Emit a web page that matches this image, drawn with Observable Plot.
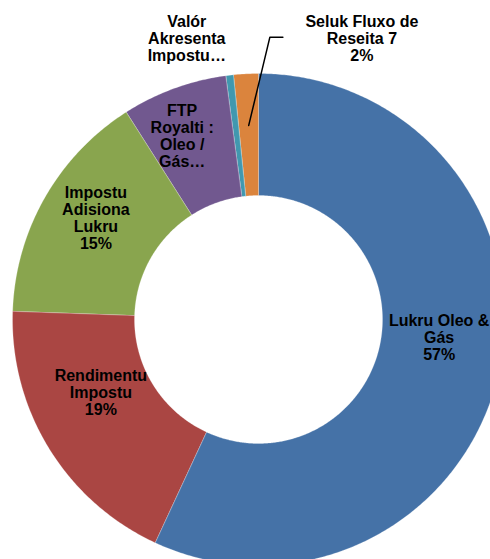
<!DOCTYPE html>
<html><head><meta charset="utf-8">
<script src="https://cdn.jsdelivr.net/npm/d3@7"></script>
<script src="https://cdn.jsdelivr.net/npm/@observablehq/plot@0.6"></script>
<style>html,body{margin:0;padding:0;background:#fff;} #chart{width:490px;height:559px;overflow:hidden;}</style>
</head><body><div id="chart"></div>
<script>
// ---- data ----
const categories = ["Lukru Oleo & Gás", "Rendimentu Impostu", "Impostu Adisiona Lukru", "FTP Royalti : Oleo / Gás…", "Valór Akresenta Impostu…", "Seluk Fluxo de Reseita 7"];
const values = [56.8, 18.6, 15.4, 6.9, 0.5, 1.6];
const labelLines = ["Lukru Oleo &\nGás", "Rendimentu\nImpostu", "Impostu\nAdisiona\nLukru", "FTP\nRoyalti :\nOleo /\nGás…", "Valór\nAkresenta\nImpostu…", "Seluk Fluxo de\nReseita 7"];
const showPercent = [true, true, true, false, false, true];
const colors = ["#4572A7", "#AA4643", "#89A54E", "#71588F", "#4198AF", "#DB843D"];

// ---- layout ----
const W = 490, H = 559, cx = 258, cy = 319, R = 246, Rin = 124;
const rin = Rin / R;
const total = d3.sum(values);
const arcs = d3.pie().sort(null).value(d => d)(values);
const polar = (t, r) => ({x: r * Math.sin(t), y: r * Math.cos(t)});

const pts = [];
arcs.forEach((a, i) => {
  const n = Math.max(2, Math.ceil((a.endAngle - a.startAngle) / (Math.PI / 360)));
  for (let k = 0; k <= n; k++) {
    const t = a.startAngle + (a.endAngle - a.startAngle) * k / n;
    pts.push({key: categories[i], ...polar(t, 1)});
  }
  for (let k = n; k >= 0; k--) {
    const t = a.startAngle + (a.endAngle - a.startAngle) * k / n;
    pts.push({key: categories[i], ...polar(t, rin)});
  }
});

const labelText = i => labelLines[i] + (showPercent[i] ? "\n" + Math.round(values[i] / total * 100) + "%" : "");
const mid = a => (a.startAngle + a.endAngle) / 2;

// pixel nudges for the inside labels (layout only)
const nudgeX = [0, 0, -2, -13];
const nudgeY = [-22, -24, -10, -10];
const inside = [0, 1, 2, 3].map(i => {
  const p = polar(mid(arcs[i]), 0.752);
  return {x: p.x + nudgeX[i] / R, y: p.y - nudgeY[i] / R, text: labelText(i)};
});
const outL = [{...polar(mid(arcs[4]), 1.18), text: labelText(4)}];
const outR = [{...polar(mid(arcs[5]), 1.18), text: labelText(5)}];

// leader line for the right outside label (pixel offsets converted to data units)
const oStart = polar(mid(arcs[5]), 0.79);
const lab = {x: outR[0].x + 118 / R, y: outR[0].y - 8.6 / R};
const leader = [oStart, {x: lab.x - 92 / R, y: lab.y + 1 / R}, {x: lab.x - 79 / R, y: lab.y + 1 / R}];

const textStyle = {fontSize: 16, fontWeight: "bold", fill: "#000", lineHeight: 1.06, text: "text", x: "x", y: "y"};

const chart = Plot.plot({
  width: W, height: H, margin: 0,
  x: {domain: [-cx / R, (W - cx) / R], axis: null},
  y: {domain: [-(H - cy) / R, cy / R], axis: null},
  color: {domain: categories, range: colors},
  style: {fontFamily: "'Liberation Sans', Arial, sans-serif", background: "#fff"},
  marks: [
    Plot.line(pts, {x: "x", y: "y", z: "key", fill: "key", stroke: "#fff", strokeWidth: 0.4, strokeOpacity: 0.6, curve: "linear-closed", clip: true}),
    Plot.line(leader, {x: "x", y: "y", stroke: "#000", strokeWidth: 1.5}),
    Plot.text(inside, textStyle),
    Plot.text(outL, {...textStyle, dx: -38, dy: 7}),
    Plot.text(outR, {...textStyle, dx: 118, dy: 8.6})
  ]
});
document.getElementById("chart").appendChild(chart);
</script>
</body></html>
